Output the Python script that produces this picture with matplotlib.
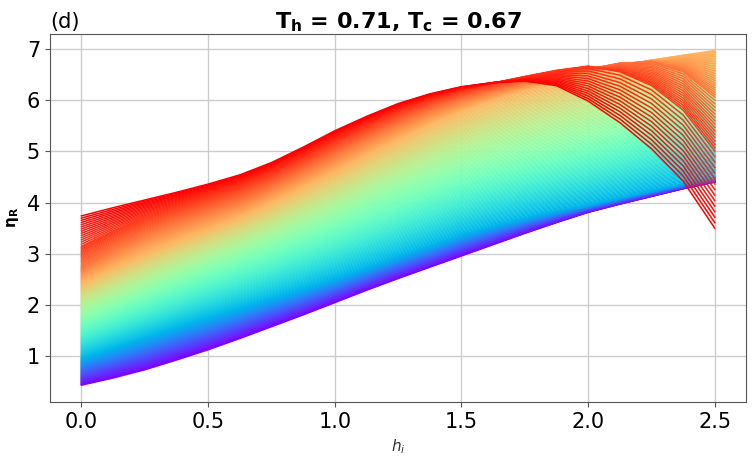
import numpy as np
import matplotlib.pyplot as plt

# h_i sample points (every 0.125)
h = [0.0, 0.125, 0.25, 0.375, 0.5, 0.625, 0.75, 0.875, 1.0, 1.125, 1.25,
     1.375, 1.5, 1.625, 1.75, 1.875, 2.0, 2.125, 2.25, 2.375, 2.5]

# key curves of the family, labelled by their place on the rainbow colour scale
eta_purple = [0.44, 0.58, 0.74, 0.93, 1.13, 1.35, 1.58, 1.81, 2.05, 2.29, 2.52,
              2.74, 2.96, 3.18, 3.40, 3.61, 3.81, 3.97, 4.12, 4.27, 4.40]
eta_blue = [0.96, 1.16, 1.36, 1.56, 1.75, 1.94, 2.13, 2.32, 2.52, 2.73, 2.95,
            3.16, 3.37, 3.55, 3.70, 3.84, 3.96, 4.10, 4.24, 4.37, 4.50]
eta_green = [1.70, 1.95, 2.20, 2.45, 2.68, 2.90, 3.12, 3.36, 3.60, 3.86, 4.10,
             4.33, 4.55, 4.72, 4.87, 5.01, 5.15, 5.30, 5.48, 5.70, 5.95]
eta_orange = [2.45, 2.75, 3.02, 3.27, 3.50, 3.74, 4.02, 4.32, 4.62, 4.95, 5.25,
              5.55, 5.80, 6.02, 6.20, 6.36, 6.52, 6.66, 6.78, 6.88, 6.97]
eta_redorange = [2.75, 3.10, 3.40, 3.63, 3.84, 4.05, 4.32, 4.63, 4.95, 5.27, 5.56,
                 5.82, 6.03, 6.20, 6.35, 6.48, 6.60, 6.72, 6.74, 6.55, 6.05]
eta_lightred = [3.15, 3.45, 3.72, 3.93, 4.12, 4.32, 4.58, 4.88, 5.20, 5.50, 5.78,
                6.00, 6.18, 6.33, 6.46, 6.58, 6.66, 6.55, 6.28, 5.80, 5.00]
eta_red = [3.74, 3.90, 4.05, 4.20, 4.36, 4.54, 4.78, 5.08, 5.40, 5.68, 5.93,
           6.12, 6.26, 6.34, 6.37, 6.28, 5.98, 5.56, 5.05, 4.42, 3.50]

key_curves = [eta_purple, eta_blue, eta_green, eta_orange,
              eta_redorange, eta_lightred, eta_red]
key_levels = [0.0, 0.25, 0.5, 0.75, 0.85, 0.93, 1.0]

n_curves = 200

fig = plt.figure(figsize=(7.54, 4.63), dpi=100)
ax = fig.add_axes([0.066, 0.132, 0.924, 0.795])

keys = np.array(key_curves)
# curves between the key ones are filled in from their two neighbours
for c in np.linspace(0, 1, n_curves):
    k = min(np.searchsorted(key_levels, c, side='right') - 1, len(key_levels) - 2)
    t = (c - key_levels[k]) / (key_levels[k + 1] - key_levels[k])
    eta = (1 - t) * keys[k] + t * keys[k + 1]
    ax.plot(h, eta, color=plt.cm.rainbow(c), lw=1.1)

ax.grid(True, color='#cccccc', lw=1)
ax.set_axisbelow(True)
ax.set_xticks([0.0, 0.5, 1.0, 1.5, 2.0, 2.5])
ax.set_yticks([1, 2, 3, 4, 5, 6, 7])
ax.tick_params(labelsize=15, color='#555555')
for s in ax.spines.values():
    s.set_color('#555555')

ax.set_xlabel('$h_i$', fontsize=11, color='#333333')
ax.set_ylabel('η$_\\mathbf{R}$', fontsize=11, fontweight='bold')
ax.set_title('(d)', loc='left', fontsize=15, pad=4)
ax.set_title('T$_\\mathbf{h}$ = 0.71, T$_\\mathbf{c}$ = 0.67',
             fontsize=16, fontweight='bold', pad=4)

fig.savefig('out.png', dpi=100)
